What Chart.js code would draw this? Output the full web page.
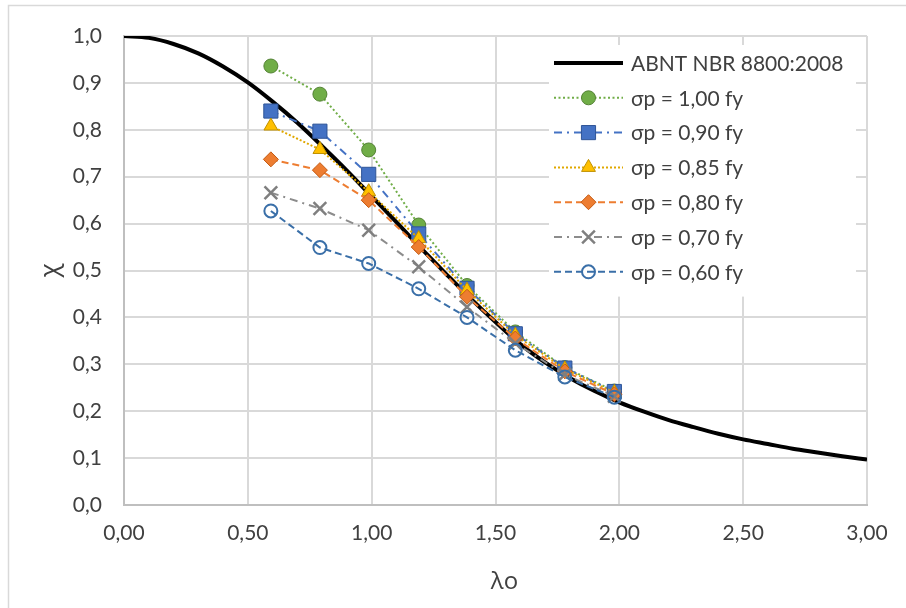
<!DOCTYPE html>
<html>
<head>
<meta charset="utf-8">
<script src="https://cdn.jsdelivr.net/npm/chart.js@4/dist/chart.umd.min.js"></script>
<style>
  html, body { margin: 0; padding: 0; background: #ffffff; }
  #wrap { width: 906px; height: 608px; position: relative; }
</style>
</head>
<body>
<div id="wrap"><canvas id="c"></canvas></div>
<script>
// ---------- data ----------
const curveLambda = [0.0, 0.1, 0.2, 0.3, 0.4, 0.5, 0.6, 0.7, 0.8, 0.9, 1.0, 1.1, 1.2, 1.3, 1.4, 1.5,
                     1.6, 1.7, 1.8, 1.9, 2.0, 2.1, 2.2, 2.3, 2.4, 2.5, 2.6, 2.7, 2.8, 2.9, 3.0];
const curveChi    = [1.000, 0.996, 0.983, 0.963, 0.935, 0.901, 0.860, 0.815, 0.765, 0.713, 0.658, 0.603, 0.547, 0.493, 0.440, 0.390,
                     0.343, 0.304, 0.271, 0.243, 0.219, 0.199, 0.181, 0.166, 0.152, 0.140, 0.130, 0.120, 0.112, 0.104, 0.097];

const lambdaExp = [0.593, 0.791, 0.988, 1.190, 1.385, 1.580, 1.780, 1.980];
const chi100 = [0.936, 0.876, 0.757, 0.597, 0.468, 0.369, 0.293, 0.243];
const chi090 = [0.840, 0.797, 0.705, 0.578, 0.462, 0.365, 0.292, 0.242];
const chi085 = [0.808, 0.758, 0.668, 0.568, 0.458, 0.362, 0.290, 0.240];
const chi080 = [0.737, 0.714, 0.650, 0.550, 0.444, 0.355, 0.285, 0.236];
const chi070 = [0.666, 0.632, 0.586, 0.508, 0.422, 0.345, 0.278, 0.232];
const chi060 = [0.627, 0.549, 0.515, 0.461, 0.400, 0.330, 0.273, 0.230];

const seriesNames = ['ABNT NBR 8800:2008', 'σp = 1,00 fy', 'σp = 0,90 fy', 'σp = 0,85 fy',
                     'σp = 0,80 fy', 'σp = 0,70 fy', 'σp = 0,60 fy'];

const xTicks = [0, 0.5, 1.0, 1.5, 2.0, 2.5, 3.0];
const xTickLabels = ['0,00', '0,50', '1,00', '1,50', '2,00', '2,50', '3,00'];
const yTicks = [0, 0.1, 0.2, 0.3, 0.4, 0.5, 0.6, 0.7, 0.8, 0.9, 1.0];
const yTickLabels = ['0,0', '0,1', '0,2', '0,3', '0,4', '0,5', '0,6', '0,7', '0,8', '0,9', '1,0'];

const xTitle = 'λo';
const yTitle = 'χ';

// ---------- helpers ----------
const FONT = 'Lato, "Open Sans", "DejaVu Sans", sans-serif';
const TITLE_FONT = '"Open Sans", "DejaVu Sans", sans-serif';
const TEXT = '#404040';
function pts(xs, ys) { return xs.map((x, i) => ({ x: x, y: ys[i] })); }

function expSet(name, ys, style) {
  return Object.assign({
    label: name,
    data: pts(lambdaExp, ys),
    borderWidth: 2,
    pointBorderWidth: 1,
    pointHoverRadius: 0,
    tension: 0,
    fill: false
  }, style);
}

const datasets = [
  {
    label: seriesNames[0], data: pts(curveLambda, curveChi),
    borderColor: '#000000', borderWidth: 4, pointRadius: 0, tension: 0.3,
    cubicInterpolationMode: 'monotone', fill: false, order: 7
  },
  expSet(seriesNames[1], chi100, {
    borderColor: '#70ad47', borderDash: [2, 2.5], pointStyle: 'circle', pointRadius: 7,
    pointBackgroundColor: '#70ad47', pointBorderColor: '#548235', order: 6
  }),
  expSet(seriesNames[2], chi090, {
    borderColor: '#4472c4', borderDash: [8, 5, 2, 5], pointStyle: 'rect', pointRadius: 10,
    pointBackgroundColor: '#4472c4', pointBorderColor: '#2f5597', order: 5
  }),
  expSet(seriesNames[3], chi085, {
    borderColor: '#e0a800', borderDash: [2, 2], pointStyle: 'triangle', pointRadius: 8,
    pointBackgroundColor: '#ffc000', pointBorderColor: '#bf9000', order: 4
  }),
  expSet(seriesNames[4], chi080, {
    borderColor: '#ed7d31', borderDash: [7, 4], pointStyle: 'rectRot', pointRadius: 7.5,
    pointBackgroundColor: '#ed7d31', pointBorderColor: '#c55a11', order: 3
  }),
  expSet(seriesNames[5], chi070, {
    borderColor: '#8c8c8c', borderDash: [8, 5, 2, 5], pointStyle: 'crossRot', pointRadius: 9,
    pointBackgroundColor: '#7f7f7f', pointBorderColor: '#7f7f7f', pointBorderWidth: 2.5, order: 2
  }),
  expSet(seriesNames[6], chi060, {
    borderColor: '#3a6fa8', borderDash: [7, 4], pointStyle: 'circle', pointRadius: 6.5,
    pointBackgroundColor: 'rgba(255,255,255,0)', pointBorderColor: '#3a6fa8', pointBorderWidth: 2, order: 1
  })
];

// frame + background
const framePlugin = {
  id: 'frame',
  beforeDraw(chart) {
    const ctx = chart.ctx;
    ctx.save();
    ctx.fillStyle = '#ffffff';
    ctx.fillRect(0, 0, chart.width, chart.height);
    ctx.strokeStyle = '#d9d9d9';
    ctx.lineWidth = 1.5;
    ctx.strokeRect(8.5, 5.5, chart.width + 20, chart.height + 20);
    ctx.restore();
  }
};

// axis titles
const titlePlugin = {
  id: 'axisTitles',
  afterDraw(chart) {
    const ctx = chart.ctx, a = chart.chartArea;
    ctx.save();
    ctx.fillStyle = TEXT;
    ctx.textAlign = 'center';
    ctx.textBaseline = 'middle';
    ctx.font = '24px ' + TITLE_FONT;
    ctx.fillText(xTitle, (a.left + a.right) / 2 + 9, a.bottom + 77);
    ctx.translate(a.left - 73, (a.top + a.bottom) / 2);
    ctx.rotate(-Math.PI / 2);
    ctx.font = '26px ' + TITLE_FONT;
    ctx.fillText(yTitle, 0, 0);
    ctx.restore();
  }
};

// legend drawn inside the plot area
const legendPlugin = {
  id: 'insideLegend',
  afterDatasetsDraw(chart) {
    const ctx = chart.ctx, a = chart.chartArea;
    const boxL = a.right - 318, boxT = a.top + 9, boxW = 307, rowH = 34.8;
    const rows = chart.data.datasets.length;
    ctx.save();
    ctx.fillStyle = '#ffffff';
    ctx.fillRect(boxL, boxT, boxW, rowH * rows + 8);
    chart.data.datasets.forEach((ds, i) => {
      const cy = boxT + 18 + i * rowH;
      const x0 = boxL + 5, x1 = boxL + 74, mx = (x0 + x1) / 2;
      ctx.save();
      ctx.strokeStyle = ds.borderColor;
      ctx.lineWidth = ds.borderWidth;
      ctx.setLineDash(ds.borderDash || []);
      ctx.beginPath();
      ctx.moveTo(x0, cy);
      ctx.lineTo(x1, cy);
      ctx.stroke();
      ctx.restore();
      if (ds.pointRadius > 0) {
        ctx.save();
        ctx.setLineDash([]);
        ctx.fillStyle = ds.pointBackgroundColor;
        ctx.strokeStyle = ds.pointBorderColor;
        ctx.lineWidth = ds.pointBorderWidth;
        Chart.helpers.drawPoint(ctx, {
          pointStyle: ds.pointStyle, radius: ds.pointRadius, rotation: 0,
          borderWidth: ds.pointBorderWidth
        }, mx, cy);
        ctx.restore();
      }
      ctx.fillStyle = TEXT;
      ctx.font = '21px ' + FONT;
      ctx.textAlign = 'left';
      ctx.textBaseline = 'middle';
      ctx.fillText(ds.label, boxL + 82, cy + 1);
    });
    ctx.restore();
  }
};

new Chart(document.getElementById('c'), {
  type: 'line',
  data: { datasets: datasets },
  plugins: [framePlugin, titlePlugin, legendPlugin],
  options: {
    responsive: true,
    maintainAspectRatio: false,
    animation: false,
    events: [],
    layout: { padding: { left: 0, top: 36, right: 39, bottom: 0 } },
    plugins: { legend: { display: false }, tooltip: { enabled: false }, title: { display: false } },
    scales: {
      x: {
        type: 'linear', min: 0, max: 3,
        afterFit(s) { s.height = 103; },
        afterBuildTicks(s) { s.ticks = xTicks.map(v => ({ value: v })); },
        ticks: {
          color: TEXT, font: { family: FONT, size: 21 }, padding: 16, maxRotation: 0,
          callback: (v) => { const i = xTicks.findIndex(t => Math.abs(t - v) < 1e-9); return i >= 0 ? xTickLabels[i] : ''; }
        },
        grid: { color: '#d9d9d9', lineWidth: 2, drawTicks: false },
        border: { color: '#bfbfbf', width: 2 }
      },
      y: {
        type: 'linear', min: 0, max: 1,
        afterFit(s) { s.width = 124; },
        afterBuildTicks(s) { s.ticks = yTicks.map(v => ({ value: v })); },
        ticks: {
          color: TEXT, font: { family: FONT, size: 21 }, padding: 22,
          callback: (v) => { const i = yTicks.findIndex(t => Math.abs(t - v) < 1e-9); return i >= 0 ? yTickLabels[i] : ''; }
        },
        grid: { color: '#d9d9d9', lineWidth: 2, drawTicks: false },
        border: { color: '#bfbfbf', width: 2 }
      }
    }
  }
});
</script>
</body>
</html>
